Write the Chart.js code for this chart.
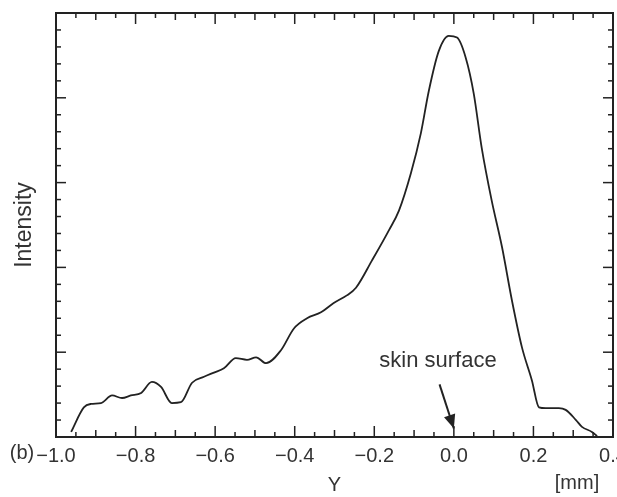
<!DOCTYPE html>
<html>
<head>
<meta charset="utf-8">
<script src="https://cdn.jsdelivr.net/npm/chart.js@4/dist/chart.umd.min.js"></script>
<style>
  body { margin: 0; background: #fff; }
  #profile { display: block; }
</style>
</head>
<body>
<canvas id="profile" width="617" height="497"></canvas>
<script>
// depth profile (x in mm, intensity in arbitrary units)
const depthMm = [-0.962, -0.93, -0.912, -0.887, -0.859, -0.834, -0.812, -0.786, -0.759, -0.736,
  -0.709, -0.686, -0.658, -0.628, -0.603, -0.578, -0.548, -0.52, -0.497, -0.472,
  -0.435, -0.402, -0.369, -0.334, -0.302, -0.269, -0.246, -0.206, -0.163, -0.138,
  -0.108, -0.083, -0.063, -0.038, -0.013, 0.008, 0.03, 0.05, 0.07, 0.095,
  0.121, 0.146, 0.171, 0.196, 0.214, 0.231, 0.264, 0.281, 0.307, 0.322,
  0.347, 0.36];
const intensity = [0.06, 0.35, 0.39, 0.40, 0.49, 0.46, 0.49, 0.52, 0.65, 0.59,
  0.40, 0.41, 0.64, 0.71, 0.76, 0.81, 0.93, 0.91, 0.94, 0.87,
  1.02, 1.28, 1.40, 1.47, 1.58, 1.67, 1.76, 2.08, 2.44, 2.67,
  3.11, 3.58, 4.08, 4.55, 4.73, 4.71, 4.47, 4.05, 3.41, 2.79,
  2.24, 1.61, 1.06, 0.67, 0.35, 0.34, 0.34, 0.32, 0.20, 0.12,
  0.06, 0.01];
const xTickLabels = [-1.0, -0.8, -0.6, -0.4, -0.2, 0.0, 0.2, 0.4];

const FONT = '"Liberation Sans", Arial, sans-serif';
const INK = '#222';

const isMultiple = (v, step) => Math.abs(Math.round(v / step) * step - v) < 1e-6;

// inward ticks on all four sides + frame + annotations
const framePlugin = {
  id: 'framePlugin',
  afterDraw(chart) {
    const { ctx, chartArea: a, scales: { x, y } } = chart;
    ctx.save();
    ctx.strokeStyle = INK;
    ctx.lineWidth = 1.5;
    const seg = (x1, y1, x2, y2) => { ctx.beginPath(); ctx.moveTo(x1, y1); ctx.lineTo(x2, y2); ctx.stroke(); };

    x.ticks.forEach(t => {
      const px = x.getPixelForValue(t.value);
      const len = isMultiple(t.value, 0.2) ? 11 : (isMultiple(t.value, 0.1) ? 7 : 5);
      seg(px, a.bottom, px, a.bottom - len);
      seg(px, a.top, px, a.top + len);
    });
    y.ticks.forEach(t => {
      const py = y.getPixelForValue(t.value);
      const len = isMultiple(t.value, 1) ? 10 : 5;
      seg(a.left, py, a.left + len, py);
      seg(a.right, py, a.right - len, py);
    });

    ctx.lineWidth = 2;
    ctx.strokeRect(a.left, a.top, a.right - a.left, a.bottom - a.top);

    // skin surface arrow
    const x0 = x.getPixelForValue(-0.036), y0 = y.getPixelForValue(0.62);
    const x1 = x.getPixelForValue(0.0), y1 = y.getPixelForValue(0.1);
    ctx.lineWidth = 2;
    seg(x0, y0, x1, y1);
    const ang = Math.atan2(y1 - y0, x1 - x0);
    ctx.fillStyle = INK;
    ctx.beginPath();
    ctx.moveTo(x1, y1);
    ctx.lineTo(x1 - 15 * Math.cos(ang - 0.4), y1 - 15 * Math.sin(ang - 0.4));
    ctx.lineTo(x1 - 15 * Math.cos(ang + 0.4), y1 - 15 * Math.sin(ang + 0.4));
    ctx.closePath();
    ctx.fill();

    ctx.fillStyle = '#333';
    ctx.textAlign = 'center';
    ctx.textBaseline = 'middle';
    ctx.font = '22px ' + FONT;
    ctx.fillText('skin surface', x.getPixelForValue(-0.04), y.getPixelForValue(0.9));

    ctx.font = '20px ' + FONT;
    ctx.fillText('(b)', 22, 453);
    ctx.fillText('[mm]', 577, 483);
    ctx.restore();
  }
};

new Chart(document.getElementById('profile'), {
  type: 'line',
  data: {
    datasets: [{
      data: depthMm.map((d, i) => ({ x: d, y: intensity[i] })),
      borderColor: INK,
      borderWidth: 1.8,
      pointRadius: 0,
      cubicInterpolationMode: 'monotone',
      fill: false
    }]
  },
  options: {
    responsive: false,
    animation: false,
    layout: { padding: { top: 13, right: 4, left: 0, bottom: 0 } },
    plugins: { legend: { display: false }, tooltip: { enabled: false } },
    scales: {
      x: {
        type: 'linear',
        min: -1.0,
        max: 0.4,
        border: { display: false },
        grid: { display: false, drawTicks: false },
        ticks: {
          stepSize: 0.05,
          autoSkip: false,
          maxRotation: 0,
          padding: 7,
          color: '#333',
          font: { family: FONT, size: 20 },
          callback: v => {
            const lab = xTickLabels.find(l => Math.abs(l - v) < 1e-6);
            if (lab === undefined) return '';
            return lab.toFixed(1).replace('-', '\u2212');
          }
        },
        title: {
          display: true,
          text: 'Y',
          color: '#333',
          font: { family: FONT, size: 20 },
          padding: { top: 2, bottom: 0 }
        },
        afterFit: s => { s.height = 60; s.paddingLeft = 0; s.paddingRight = 0; }
      },
      y: {
        min: 0,
        max: 5,
        border: { display: false },
        grid: { display: false, drawTicks: false },
        ticks: { stepSize: 0.2, display: false },
        title: {
          display: true,
          text: 'Intensity',
          color: '#333',
          font: { family: FONT, size: 23 },
          padding: { top: 11, bottom: 0 }
        },
        afterFit: s => { s.width = 56; s.paddingTop = 0; s.paddingBottom = 0; }
      }
    }
  },
  plugins: [framePlugin]
});
</script>
</body>
</html>
